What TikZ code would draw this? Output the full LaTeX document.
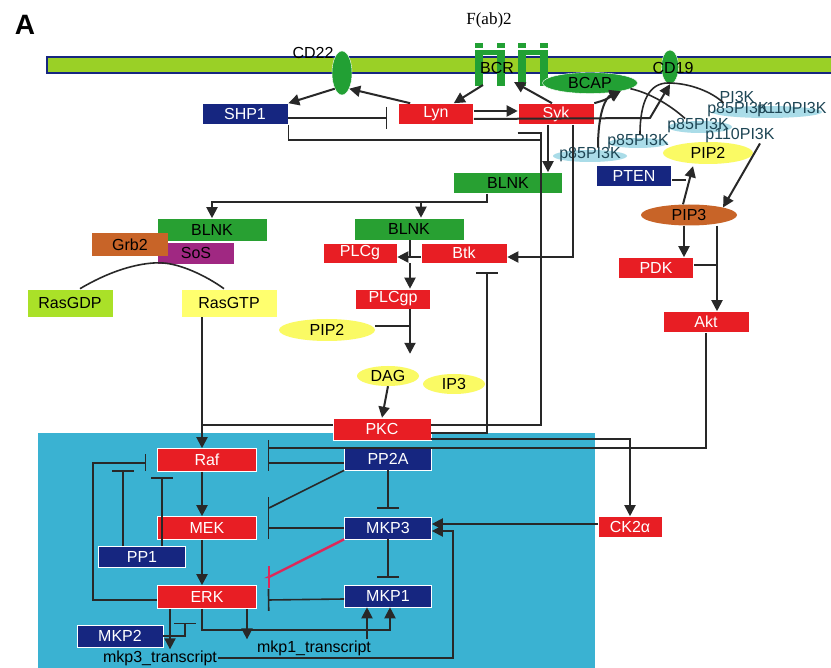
\documentclass[tikz,border=0pt]{standalone}
\usepackage{fontspec}
\setmainfont{Liberation Sans}
\newfontfamily\serifface{Liberation Serif}
\usetikzlibrary{arrows.meta,calc,shapes.geometric}

\definecolor{memb}{RGB}{154,208,38}
\definecolor{kred}{RGB}{232,30,36}
\definecolor{knavy}{RGB}{22,38,128}
\definecolor{kgreen}{RGB}{40,160,50}
\definecolor{kdkgreen}{RGB}{34,160,52}
\definecolor{kyellow}{RGB}{250,250,100}
\definecolor{kgdp}{RGB}{170,225,40}
\definecolor{kgtp}{RGB}{255,255,110}
\definecolor{kbrown}{RGB}{200,100,40}
\definecolor{kpurple}{RGB}{160,40,130}
\definecolor{nucleus}{RGB}{58,178,210}
\definecolor{pikbg}{RGB}{170,220,232}
\definecolor{pikc}{RGB}{30,70,85}
\definecolor{linec}{RGB}{40,40,40}
\definecolor{kcrimson}{RGB}{220,40,90}

\newcommand{\labfont}{\fontsize{16}{18}\selectfont}

\tikzset{
    x=1pt, y=-1pt,
    box/.style={rectangle, inner sep=0pt, draw=white, line width=0.6pt, font=\labfont},
    red box/.style={box, fill=kred, text=white},
    navy box/.style={box, fill=knavy, text=white},
    green box/.style={box, fill=kgreen, text=black},
    oval/.style={ellipse, inner sep=0pt, font=\labfont},
    act/.style={-{Triangle[length=11pt,width=11pt]}, line width=2pt, draw=linec},
    inh/.style={-{Bar[width=22pt]}, line width=1.6pt, draw=linec},
    link/.style={line width=1.6pt, draw=linec}
}

\begin{document}
\begin{tikzpicture}
    \tikzstyle{pik}=[font=\labfont, text=pikc, inner sep=0pt]
    \useasboundingbox[fill=white] (0,0) rectangle (831,668);

    % nucleus and membrane
    \fill[nucleus] (38,433) rectangle (595,668);
    \draw[draw=knavy, fill=memb, line width=1.2pt] (47,57) rectangle (833,73);
    \foreach \bx in {475,497,518,540} {
        \fill[kdkgreen] (\bx,43) rectangle (\bx+8,48);
        \fill[kdkgreen] (\bx,50) rectangle (\bx+8,86);
    }
    \fill[kdkgreen] (475,50) rectangle (505,55);
    \fill[kdkgreen] (518,50) rectangle (548,55);
    \coordinate (bcrL) at (483,85);
    \coordinate (bcrR) at (514,82);

    \node[font=\fontsize{28}{30}\selectfont\bfseries] (panel) at (25,25) {A};
    \node[font=\serifface\fontsize{17}{19}\selectfont] (fab) at (489,20) {F(ab)2};
    \node[oval, fill=kdkgreen, draw=white, minimum width=20pt, minimum height=44pt] (CD22) at (342,73) {};
    \node[font=\labfont] (cd22lab) at (313,53) {CD22};
    \node[oval, fill=kdkgreen, draw=white, minimum width=17pt, minimum height=34pt] (CD19) at (670,67) {};
    \node[font=\labfont] (cd19lab) at (673,68) {CD19};
    \node[font=\labfont] (bcrlab) at (497,68) {BCR};
    \node[oval, fill=kdkgreen, draw=white, minimum width=95pt, minimum height=21pt] (BCAP) at (590,83) {BCAP};

    \node[navy box, minimum width=86pt, minimum height=21pt] (SHP1) at (245,114) {SHP1};
    \node[red box, minimum width=75pt, minimum height=21pt] (Lyn) at (436,114) {Lyn};
    \node[red box, minimum width=76pt, minimum height=21pt] (Syk) at (556,114) {Syk};

    % PI3K subunits
    \fill[pikbg] (590,156) ellipse (37 and 6);
    \fill[pikbg] (638,143) ellipse (30 and 5);
    \fill[pikbg] (700,127) ellipse (32 and 6);
    \fill[pikbg] (767,112) ellipse (55 and 6);
    \node[oval, fill=kyellow, minimum width=90pt, minimum height=22pt] (PIP2r) at (708,153) {PIP2};
    \node[pik] (pi3k) at (737,97) {PI3K};
    \node[pik] (p85d) at (738,110) {p85PI3K};
    \node[pik] (p110b) at (792,110) {p110PI3K};
    \node[pik] (p85c) at (698,126) {p85PI3K};
    \node[pik] (p110a) at (740,136) {p110PI3K};
    \node[pik] (p85b) at (638,142) {p85PI3K};
    \node[pik] (p85a) at (590,155) {p85PI3K};

    \node[navy box, minimum width=75pt, minimum height=21pt] (PTEN) at (634,176) {PTEN};
    \node[oval, fill=kbrown, minimum width=96pt, minimum height=21pt] (PIP3) at (689,215) {PIP3};
    \node[red box, minimum width=75pt, minimum height=21pt] (PDK) at (656,268) {PDK};
    \node[red box, minimum width=86pt, minimum height=21pt] (Akt) at (706,322) {Akt};

    \node[green box, minimum width=109pt, minimum height=21pt] (BLNKt) at (508,183) {BLNK};
    \node[green box, minimum width=110pt, minimum height=23pt] (BLNKl) at (212,230) {BLNK};
    \node[box, fill=kpurple, text=black, minimum width=77pt, minimum height=22pt] (SoS) at (196,253) {SoS};
    \node[box, draw=none, fill=kbrown, text=black, minimum width=76pt, minimum height=23pt] (Grb2) at (130,245) {Grb2};
    \node[box, fill=kgdp, minimum width=86pt, minimum height=28pt] (RasGDP) at (70,303) {RasGDP};
    \node[box, fill=kgtp, minimum width=96pt, minimum height=28pt] (RasGTP) at (229,303) {RasGTP};

    \node[green box, minimum width=110pt, minimum height=22pt] (BLNKc) at (409,229) {BLNK};
    \node[red box, minimum width=74pt, minimum height=20pt] (PLCg) at (360,253) {PLCg};
    \node[red box, minimum width=86pt, minimum height=20pt] (Btk) at (464,253) {Btk};
    \node[red box, minimum width=75pt, minimum height=20pt] (PLCgp) at (393,299) {PLCgp};
    \node[oval, fill=kyellow, minimum width=96pt, minimum height=22pt] (PIP2l) at (327,330) {PIP2};
    \node[oval, fill=kyellow, minimum width=62pt, minimum height=20pt] (DAG) at (388,376) {DAG};
    \node[oval, fill=kyellow, minimum width=62pt, minimum height=20pt] (IP3) at (454,384) {IP3};
    \node[red box, minimum width=98pt, minimum height=22pt] (PKC) at (382,429) {PKC};

    \node[red box, minimum width=99pt, minimum height=23pt] (Raf) at (207,460) {Raf};
    \node[red box, minimum width=99pt, minimum height=23pt] (MEK) at (207,528) {MEK};
    \node[red box, minimum width=99pt, minimum height=23pt] (ERK) at (207,597) {ERK};
    \node[navy box, minimum width=87pt, minimum height=21pt] (PP1) at (142,557) {PP1};
    \node[navy box, minimum width=86pt, minimum height=22pt] (MKP2) at (120,636) {MKP2};
    \node[navy box, minimum width=87pt, minimum height=22pt] (PP2A) at (388,459) {PP2A};
    \node[navy box, minimum width=87pt, minimum height=22pt] (MKP3) at (388,528) {MKP3};
    \node[navy box, minimum width=87pt, minimum height=22pt] (MKP1) at (388,596) {MKP1};
    \node[red box, minimum width=64pt, minimum height=21pt] (CK2) at (630,527) {CK2α};
    \node[font=\labfont, inner sep=1pt] (mkp3) at (160,658) {mkp3\_transcript};
    \node[font=\labfont, inner sep=1pt] (mkp1) at (314,648) {mkp1\_transcript};

    % receptor level
    \draw[act] (CD22.south west) -- (SHP1.north east);
    \draw[act] ($(Lyn.north west)+(12,0)$) -- (CD22.south east);
    \draw[act] (bcrL) -- ($(Lyn.north east)+(-20,0)$);
    \draw[act] ($(Syk.north)+(-4,0)$) -- (bcrR);
    \draw[act] ($(Lyn.east)+(0,-3)$) -- ($(Syk.west)+(0,-3)$);
    \draw[act] ($(Lyn.east)+(0,5)$) -- (650,118) -- (CD19.south);
    \draw[inh] ($(SHP1.east)+(0,4)$) -- ($(Lyn.west)+(-11,4)$);
    \draw[link] (SHP1.south east) |- (541,140) |- ($(PKC.east)+(0,-4)$);
    \draw[link] ($(Syk.south west)+(0,8)$) -| (541,140);
    \draw[act] (Syk.north east) .. controls (605,100) .. (BCAP.-15);
    \draw[act] ($(p85a.north)+(8,0)$) .. controls (598,112) and (606,97) .. (BCAP.-15);
    \draw[link] (BCAP.-8) .. controls (650,93) and (670,105) .. ($(p85c.north west)+(18,0)$);
    \draw[link] ($(p85b.north)+(2,0)$) .. controls (640,100) and (650,83) .. (668,83)
        .. controls (690,83) and (712,92) .. ($(pi3k.south west)+(4,0)$);

    % PI3K branch
    \draw[act] ($(p110a.south)+(20,0)$) -- (PIP3.north east);
    \draw[act] ($(PIP3.north)+(-6,0)$) -- ($(PIP2r.south)+(-15,2)$);
    \draw[link] ($(PTEN.east)+(0,4)$) -- (686,180);
    \draw[act] (PIP3.south -| 684,0) -- (PDK.north -| 684,0);
    \draw[act] (PIP3.south -| 717,0) -- (Akt.north -| 717,0);
    \draw[link] ($(PDK.east)+(0,-3)$) -- (717,265);

    % BLNK branch
    \draw[act] (Syk.south -| 548,0) -- (BLNKt.north -| 548,0);
    \draw[act] (Syk.south -| 573,0) |- ($(Btk.east)+(0,4)$);
    \draw[link] (BLNKt.south -| 487,0) |- (421,202);
    \draw[act] (421,202) -| (BLNKl.north);
    \draw[act] (421,202) -- (BLNKc.north -| 421,0);
    \draw[link] ($(RasGDP.north)+(10,0)$) .. controls (120,265) and (150,262) .. (163,263)
        .. controls (180,264) and (205,275) .. ($(RasGTP.north)+(-5,0)$);
    \draw[link] (BLNKc.south -| 410,0) -- (410,257);
    \draw[act] ($(Btk.west)+(0,4)$) -- ($(PLCg.east)+(0,4)$);
    \draw[act] (PLCg.south -| 410,0) -- (PLCgp.north -| 410,0);
    \coordinate (dagjoin) at (410,326);
    \draw[act] (PLCgp.south -| 410,0) -- ($(DAG.north)+(22,-12)$);
    \draw[link] ($(PIP2l.east)+(0,-4)$) -- (dagjoin);
    \draw[act] (DAG.south) -- (PKC.north);
    \draw[inh] ($(PKC.east)+(0,4)$) -| ($(Btk.south)+(23,9)$);

    % MAPK cascade
    \draw[link] ($(PKC.west)+(0,-4)$) -- (202,425);
    \draw[act] (RasGTP.south -| 202,0) -- (Raf.north -| 202,0);
    \draw[act] (Raf.south -| 202,0) -- (MEK.north -| 202,0);
    \draw[act] (MEK.south -| 202,0) -- (ERK.north -| 202,0);
    \draw[act] ($(PKC.east)+(0,10)$) -| (CK2.north);
    \draw[inh, -{Bar[width=16pt]}] (Akt.south) |- ($(Raf.east)+(11,-12)$);
    \draw[inh, -{Bar[width=16pt]}] ($(PP2A.west)+(0,4)$) -- ($(Raf.east)+(11,3)$);
    \draw[inh] (PP2A.south west) -- (269,508) -- ($(MEK.east)+(11,-20)$);
    \draw[inh] (MKP3.west) -- ($(MEK.east)+(11,0)$);
    \draw[inh, draw=kcrimson, line width=2.4pt] (MKP3.south west) -- (269,577) -- ($(ERK.east)+(11,-20)$);
    \draw[inh] ($(MKP1.west)+(0,3)$) -- ($(ERK.east)+(11,3)$);
    \draw[inh] (PP2A.south) -- ($(MKP3.north)+(0,-8)$);
    \draw[inh] (MKP3.south) -- ($(MKP1.north)+(0,-7)$);
    \draw[inh, -{Bar[width=17pt]}] ($(ERK.west)+(0,3)$) -| (93,463) -- ($(Raf.west)+(-11,3)$);
    \draw[inh] (PP1.north -| 123,0) -- (123,470);
    \draw[inh] (PP1.north -| 162,0) -- (162,477);
    \draw[inh] (MKP2.east) -| ($(ERK.south)+(-22,14)$);
    \draw[act] (ERK.south -| 170,0) -- (mkp3.north -| 170,0);
    \draw[act] (ERK.south -| 247,0) -- (mkp1.north -| 247,0);
    \draw[act] (ERK.south -| 202,0) |- (390,630) -- (MKP1.south -| 390,0);
    \draw[act] (mkp1.north -| 367,0) -- (MKP1.south -| 367,0);
    \draw[act] (mkp3.east) -| (453,531) -- ($(MKP3.east)+(0,3)$);
    \draw[act] ($(CK2.west)+(0,-3)$) -- ($(MKP3.east)+(0,-4)$);

%    \draw[link] (Raf.east) -- (PP2A.west);
\end{tikzpicture}
\end{document}
